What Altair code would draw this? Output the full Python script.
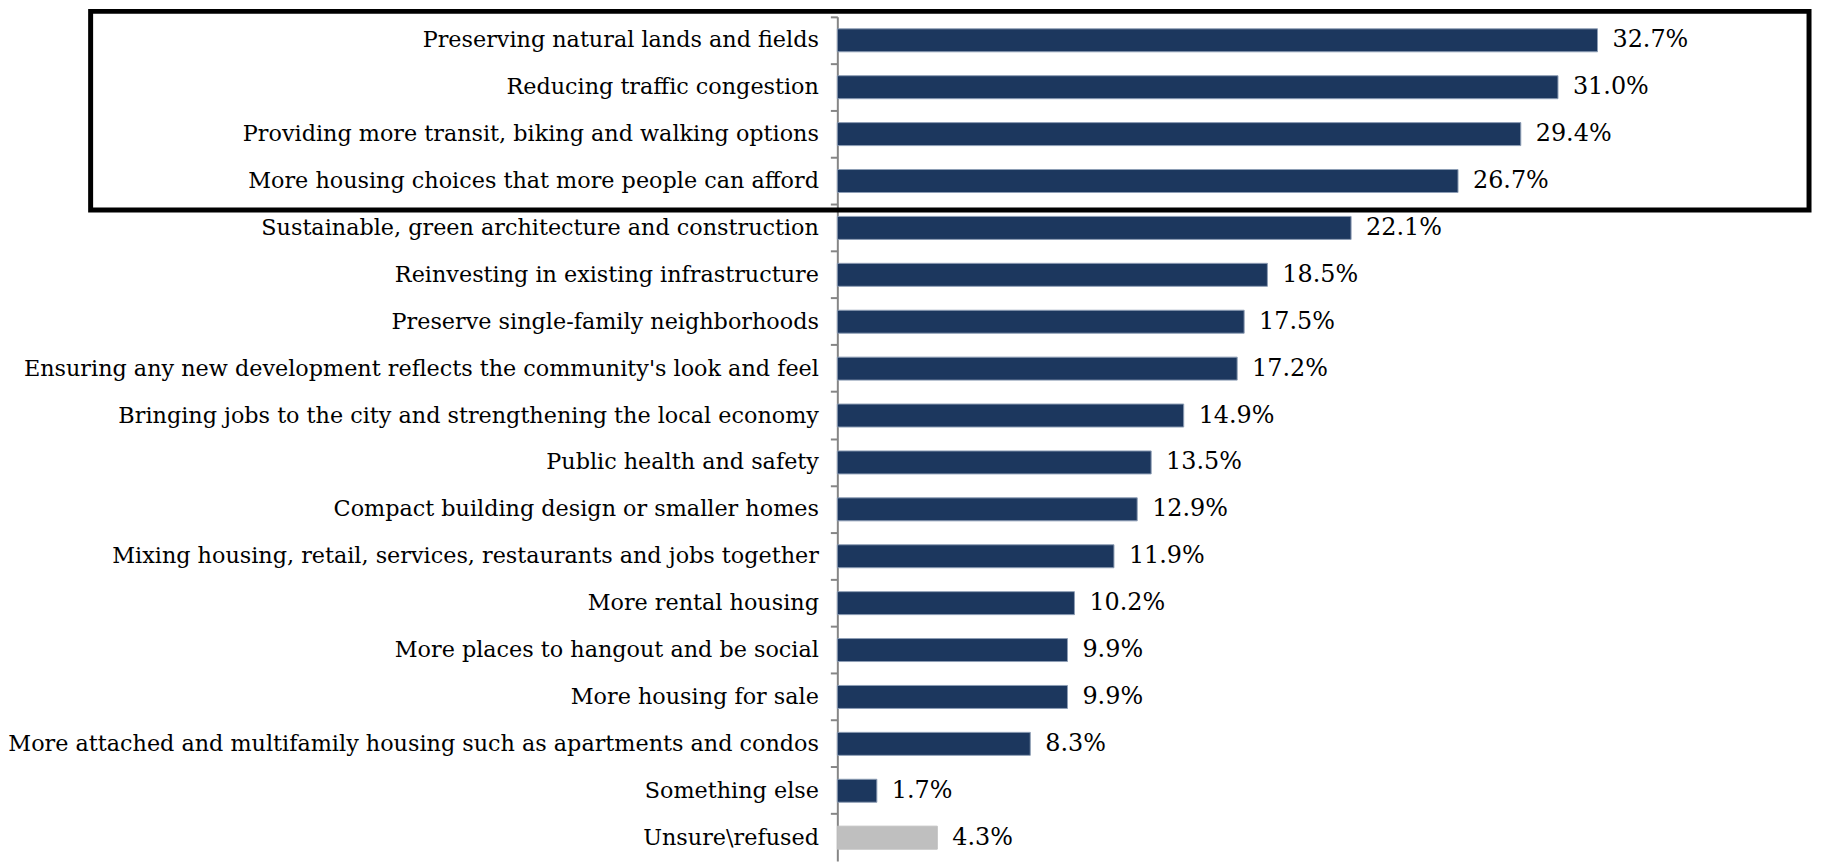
import altair as alt
import pandas as pd

categories = [
    "Preserving natural lands and fields",
    "Reducing traffic congestion",
    "Providing more transit, biking and walking options",
    "More housing choices that more people can afford",
    "Sustainable, green architecture and construction",
    "Reinvesting in existing infrastructure",
    "Preserve single-family neighborhoods",
    "Ensuring any new development reflects the community's look and feel",
    "Bringing jobs to the city and strengthening the local economy",
    "Public health and safety",
    "Compact building design or smaller homes",
    "Mixing housing, retail, services, restaurants and jobs together",
    "More rental housing",
    "More places to hangout and be social",
    "More housing for sale",
    "More attached and multifamily housing such as apartments and condos",
    "Something else",
    "Unsure\\refused",
]
values = [32.7, 31.0, 29.4, 26.7, 22.1, 18.5, 17.5, 17.2, 14.9, 13.5, 12.9,
          11.9, 10.2, 9.9, 9.9, 8.3, 1.7, 4.3]
groups = ["main"] * 17 + ["unsure"]

df = pd.DataFrame({"category": categories, "value": values, "group": groups})
df["label"] = [f"{v:.1f}%" for v in values]

PLOT_W = 934
PLOT_H = 848
FONT = "DejaVu Serif"

y_enc = alt.Y(
    "category:N",
    sort=categories,
    title=None,
    scale=alt.Scale(paddingInner=0, paddingOuter=0),
    axis=alt.Axis(
        bandPosition=0,
        domainColor="#868686",
        domainWidth=2,
        tickColor="#868686",
        tickWidth=2,
        tickSize=7,
        labelFont=FONT,
        labelFontSize=22.4,
        labelColor="black",
        labelPadding=12,
        labelLimit=2000,
        grid=False,
    ),
)
x_enc = alt.X("value:Q", scale=alt.Scale(domain=[0, 40], nice=False, zero=True), axis=None)

bars = alt.Chart(df).mark_bar(height=alt.RelativeBandSize(0.49), strokeWidth=1).encode(
    y=y_enc,
    x=x_enc,
    color=alt.Color("group:N", scale=alt.Scale(domain=["main", "unsure"], range=["#1c375e", "#bfbfbf"]), legend=None),
    stroke=alt.Stroke("group:N", scale=alt.Scale(domain=["main", "unsure"], range=["#8d9db4", "#bfbfbf"]), legend=None),
)

labels = alt.Chart(df).mark_text(
    align="left", baseline="middle", dx=15, font=FONT, fontSize=24, color="black"
).encode(y=alt.Y("category:N", sort=categories), x=x_enc, text="label:N")

# highlight box around the top four answers (annotation)
box = alt.Chart(pd.DataFrame({"box": [0]})).mark_rect(
    fillOpacity=0, stroke="black", strokeWidth=5
).encode(
    x=alt.value(-750), x2=alt.value(976), y=alt.value(-5.5), y2=alt.value(194)
)

chart = (
    alt.layer(bars, labels, box)
    .properties(
        width=PLOT_W,
        height=PLOT_H,
        autosize=alt.AutoSizeParams(type="none"),
        padding={"left": 833, "top": 7, "right": 48, "bottom": 0},
        background="white",
    )
    .configure_view(stroke=None)
)

chart.save("out.html", embed_options={"renderer": "svg", "actions": False})
